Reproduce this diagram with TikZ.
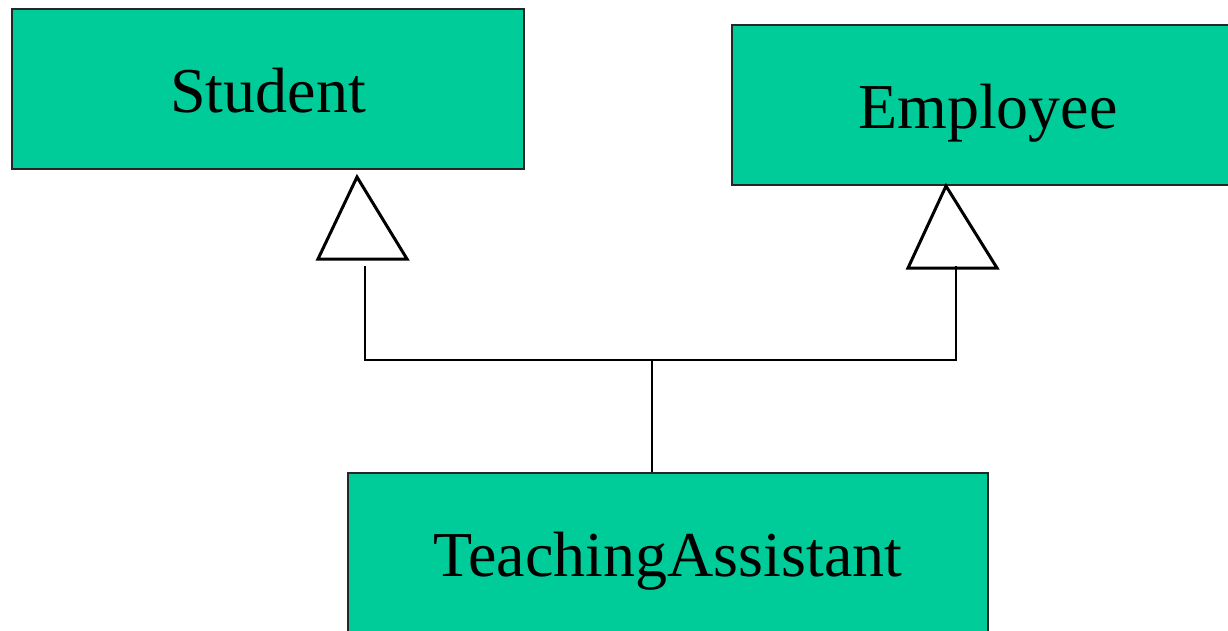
\documentclass[tikz,border=0pt]{standalone}
\usepackage{fontspec}
\setmainfont{Liberation Serif}
\definecolor{boxgreen}{HTML}{00CC99}
\begin{document}
\begin{tikzpicture}[x=1pt,y=-1pt,
  classbox/.style={draw=black!85,line width=1.3pt,fill=boxgreen,minimum height=160pt,inner sep=0pt,text height=47.5pt,text depth=0pt,font=\fontsize{64}{76}\selectfont},
  gentri/.style={draw=black,line width=3pt,fill=white,line join=miter},
  conn/.style={draw=black,line width=2pt}]
\useasboundingbox (0,0) rectangle (1228,631);
\node[classbox,minimum width=512pt] (student) at (268,89) {Student};
\node[classbox,minimum width=512pt] (employee) at (988,105) {Employee};
\node[classbox,minimum width=640pt] (ta) at (668,553) {TeachingAssistant};
% generalization triangles
\coordinate (s-apex) at (357,177);
\coordinate (s-base) at (365,266);
\coordinate (e-apex) at (946,186);
\coordinate (e-base) at (956,266);
\draw[gentri] (s-apex) -- (407,259) -- (318,259) -- cycle;
\draw[gentri] (e-apex) -- (997,268) -- (908,268) -- cycle;
\coordinate (join) at (652,360);
\draw[conn] (s-base) |- (join) -| (e-base);
\draw[conn] (join) -- (ta.north -| join);
\end{tikzpicture}
\end{document}
